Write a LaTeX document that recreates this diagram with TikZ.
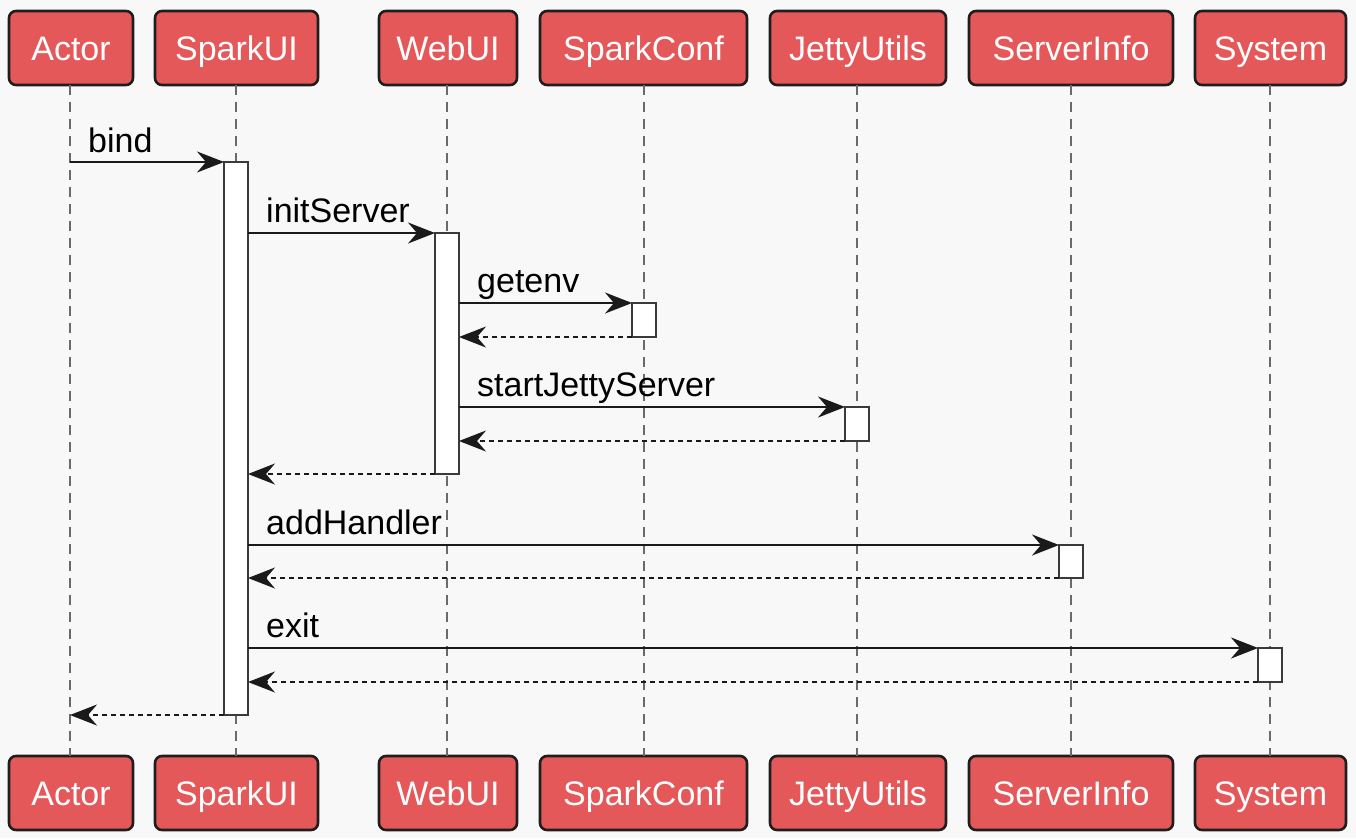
\documentclass[tikz,border=0pt]{standalone}
\usepackage{fontspec}
\setmainfont{Liberation Sans}
\usetikzlibrary{arrows.meta}
\definecolor{bg}{HTML}{F8F8F8}
\definecolor{boxred}{HTML}{E5585A}
\definecolor{boxline}{HTML}{1E1E1E}
\definecolor{lifegrey}{HTML}{6A6A6A}
\definecolor{actline}{HTML}{3A3A3A}
\definecolor{msgline}{HTML}{1A1A1A}
\tikzset{
  part/.style={draw=boxline, fill=boxred, line width=2.6pt, rounded corners=7pt,
    minimum height=74pt, inner sep=0pt, text=white, text height=24pt, text depth=0pt,
    font=\fontsize{34}{40}\selectfont},
  life/.style={draw=lifegrey, line width=1.2pt, dash pattern=on 10pt off 7pt},
  actbox/.style={draw=actline, fill=white, line width=2pt, minimum width=24pt, inner sep=0pt, outer sep=0pt, anchor=north},
  msg/.style={draw=msgline, line width=2pt, -{Stealth[length=27pt,width=21pt,inset=9pt]}},
  ret/.style={msg, dash pattern=on 5pt off 4pt},
  lbl/.style={anchor=base west, inner sep=0pt, text=black, font=\fontsize{34}{40}\selectfont}
}
\begin{document}
\begin{tikzpicture}[x=1pt,y=-1pt]
\fill[bg] (0,0) rectangle (1356,838);
\useasboundingbox (0,0) rectangle (1356,838);
% participants
\foreach \n/\t/\x/\w in {actor/Actor/71/124, spark/SparkUI/236.5/163, web/WebUI/448/138,
  conf/SparkConf/643.5/207, jetty/JettyUtils/858/176, server/ServerInfo/1071/204, sys/System/1270.5/151}{
  \node[part, minimum width=\w pt] (\n T) at (\x,48) {\t};
  \node[part, minimum width=\w pt] (\n B) at (\x,793) {\t};
}
% lifelines
\foreach \n/\x in {actor/70, spark/236, web/447, conf/644, jetty/857, server/1071, sys/1270}{
  \draw[life] (\x,85) -- (\x,756);
}
% activations
\node[actbox, minimum height=553pt] (aSpark) at (236,162) {};
\node[actbox, minimum height=241pt] (aWeb) at (447,233) {};
\node[actbox, minimum height=34pt] (aConf) at (644,303) {};
\node[actbox, minimum height=34pt] (aJetty) at (857,407) {};
\node[actbox, minimum height=33pt] (aServer) at (1071,545) {};
\node[actbox, minimum height=34pt] (aSys) at (1270,648) {};
% messages
\coordinate (actorX) at (70,0);
\draw[msg] (actorX |- aSpark.north) -- (aSpark.north west);
\node[lbl] (lBind) at (88,152) {bind};

\draw[msg] (aSpark.east |- aWeb.north) -- (aWeb.north west);
\node[lbl] (lInit) at (266,222) {initServer};

\draw[msg] (aWeb.east |- aConf.north) -- (aConf.north west);
\node[lbl] (lGet) at (477,292) {getenv};
\draw[ret] (aConf.south west) -- (aWeb.east |- aConf.south);

\draw[msg] (aWeb.east |- aJetty.north) -- (aJetty.north west);
\node[lbl] (lStart) at (477,396) {startJettyServer};
\draw[ret] (aJetty.south west) -- (aWeb.east |- aJetty.south);

\draw[ret] (aWeb.south west) -- (aSpark.east |- aWeb.south);

\draw[msg] (aSpark.east |- aServer.north) -- (aServer.north west);
\node[lbl] (lAdd) at (266,534) {addHandler};
\draw[ret] (aServer.south west) -- (aSpark.east |- aServer.south);

\draw[msg] (aSpark.east |- aSys.north) -- (aSys.north west);
\node[lbl] (lExit) at (266,637) {exit};
\draw[ret] (aSys.south west) -- (aSpark.east |- aSys.south);

\draw[ret] (aSpark.south west) -- (actorX |- aSpark.south);
\end{tikzpicture}
\end{document}
